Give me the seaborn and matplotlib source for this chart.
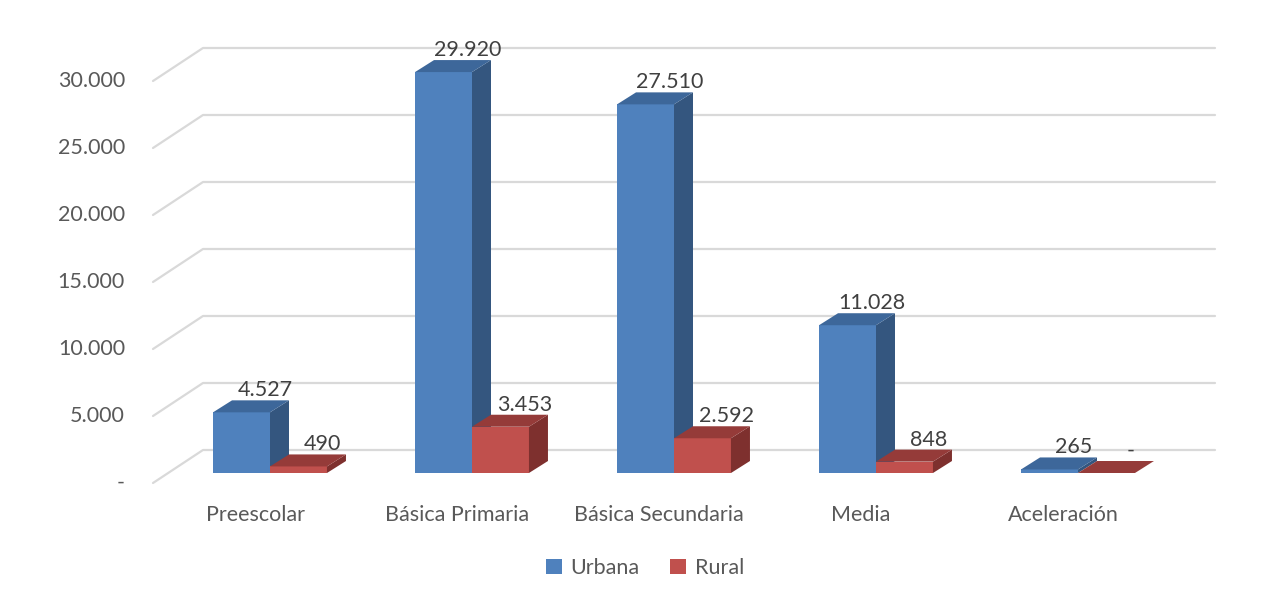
import numpy as np
import pandas as pd
import matplotlib
matplotlib.use("Agg")
import matplotlib.pyplot as plt
import seaborn as sns
from matplotlib.patches import Polygon, Patch
from matplotlib.lines import Line2D
from matplotlib.transforms import IdentityTransform

categories = ["Preescolar", "Básica Primaria", "Básica Secundaria", "Media", "Aceleración"]
urbana = [4527, 29920, 27510, 11028, 265]
rural = [490, 3453, 2592, 848, 0]
series = ["Urbana", "Rural"]
yticks = [0, 5000, 10000, 15000, 20000, 25000, 30000]

front_colors = {"Urbana": "#4F81BD", "Rural": "#C0504D"}
top_colors = {"Urbana": "#3D679A", "Rural": "#953B39"}
side_colors = {"Urbana": "#34567F", "Rural": "#7E302E"}
text_color = "#595959"
grid_color = "#D9D9D9"

sns.set_theme(style="white")
plt.rcParams["font.family"] = ["Lato", "DejaVu Sans"]
FS = 15.5

df = pd.DataFrame({
    "Nivel": categories * 2,
    "Valor": urbana + rural,
    "Zona": ["Urbana"] * len(categories) + ["Rural"] * len(categories),
})

fig = plt.figure(figsize=(12.67, 5.98), dpi=100)
W, H = 1267, 598
left_px = 270 - 0.57 * 202
ax = fig.add_axes([left_px / W, 125 / H, 5.27 * 202 / W, 402 / H])
ax.set_zorder(1)

sns.barplot(data=df, x="Nivel", y="Valor", hue="Zona", hue_order=series,
            palette=front_colors, width=0.564, gap=0, dodge=True, ax=ax,
            legend=False, saturation=1, edgecolor="none", linewidth=0)
ax.set_xlim(-0.57, 4.7)
ax.set_ylim(0, 30000)
ax.axis("off")
ax.patch.set_visible(False)

def disp(x, y, dx=0, dy=0):
    px, py = ax.transData.transform((x, y))
    return (px + dx, py + dy)

# gridlines with 3D wall
xl = (168 - 270) / 202
xr = (1180 - 270) / 202
for v in yticks:
    p0 = disp(xl, v, -15, -10)
    p1 = disp(xl, v, 35, 23)
    p2 = disp(xr, v, 35, 23)
    fig.add_artist(Line2D([p0[0], p1[0], p2[0]], [p0[1], p1[1], p2[1]],
                          transform=IdentityTransform(), color=grid_color,
                          lw=1.6, zorder=0))
    lab = "-" if v == 0 else f"{v:,}".replace(",", ".")
    fig.text(p0[0] - 28, p0[1], lab, transform=IdentityTransform(),
             ha="right", va="center", fontsize=FS, color=text_color)

# 3D faces of bars, drawn in order urbana then rural
DX, DY = 19, 12
values = {"Urbana": urbana, "Rural": rural}
for si, (cont, name) in enumerate(zip(ax.containers, series)):
    base_z = 3 + si
    for bar, val in zip(cont.patches, values[name]):
        bar.set_zorder(base_z)
        bar.set_clip_on(False)
        x0 = bar.get_x()
        w = bar.get_width()
        h = bar.get_height()
        br = disp(x0 + w, 0)
        tl = disp(x0, h)
        tr = disp(x0 + w, h)
        side = [br, tr, (tr[0] + DX, tr[1] + DY), (br[0] + DX, br[1] + DY)]
        top = [tl, tr, (tr[0] + DX, tr[1] + DY), (tl[0] + DX, tl[1] + DY)]
        ax.add_artist(Polygon(side, closed=True, transform=IdentityTransform(),
                              facecolor=side_colors[name], edgecolor="none",
                              zorder=base_z + 0.5, clip_on=False))
        ax.add_artist(Polygon(top, closed=True, transform=IdentityTransform(),
                              facecolor=top_colors[name], edgecolor="none",
                              zorder=base_z + 0.5, clip_on=False))
        cx = x0 + w / 2
        lp = disp(cx, h, 24, 22)
        lab = "-" if val == 0 else f"{val:,}".replace(",", ".")
        fig.text(lp[0], lp[1], lab, transform=IdentityTransform(),
                 ha="center", va="center", fontsize=FS, color="#404040", zorder=5)

# category labels
for i, c in enumerate(categories):
    p = disp(i, 0, -15, -42)
    fig.text(p[0], p[1], c, transform=IdentityTransform(), ha="center",
             va="center", fontsize=FS, color=text_color)

handles = [Patch(facecolor=front_colors[s], edgecolor="none") for s in series]
fig.legend(handles, series, loc="center", bbox_to_anchor=(0.509, 0.05), ncol=2,
           frameon=False, handlelength=0.75, handleheight=0.75, columnspacing=1.4,
           handletextpad=0.4, fontsize=FS, labelcolor=text_color)

fig.savefig("out.png", dpi=100)
